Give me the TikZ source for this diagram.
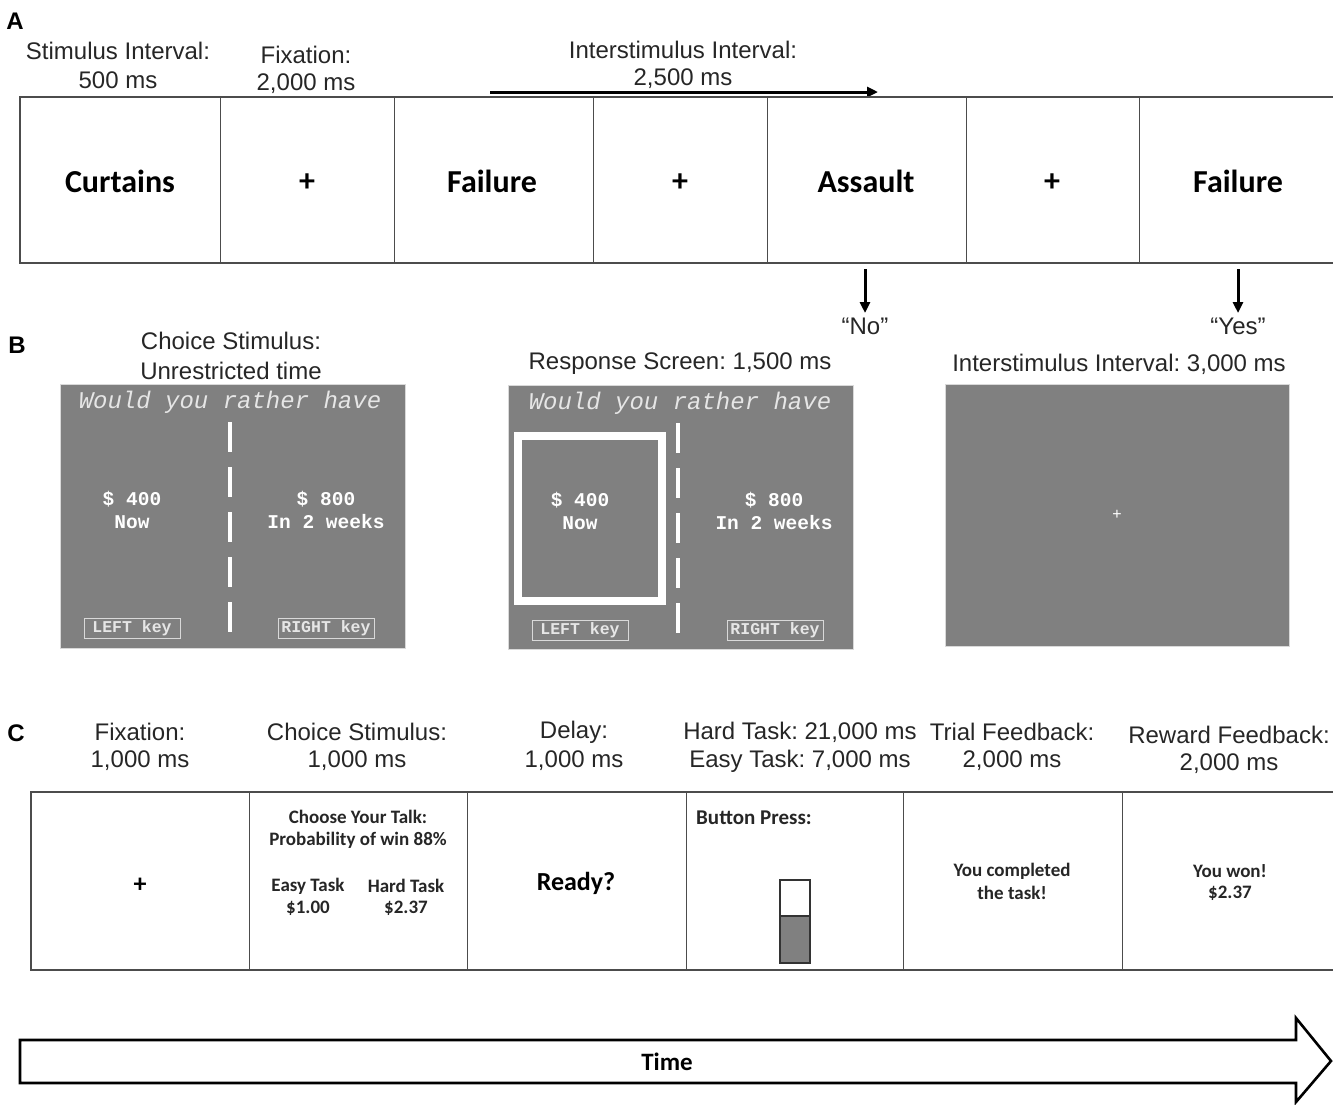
\documentclass[tikz,border=0pt]{standalone}
\usepackage{fontspec}
\setmainfont{Liberation Sans}
\newfontfamily\calib{Carlito}
\newfontfamily\cour{Liberation Mono}
\usetikzlibrary{arrows.meta}
\definecolor{scr}{HTML}{808080}
\definecolor{scrtxt}{HTML}{E6E6E6}
\frenchspacing
\begin{document}
\begin{tikzpicture}[x=1pt,y=-1pt,
  lab/.style={font=\fontsize{24}{28}\selectfont, inner sep=0pt, text=black!85},
  sec/.style={font=\fontsize{24}{26}\selectfont\bfseries, inner sep=0pt},
  cellA/.style={font=\calib\fontsize{32}{36}\selectfont\bfseries, inner sep=0pt},
  cellC/.style={font=\calib\fontsize{19}{22}\selectfont\bfseries, inner sep=0pt, text=black!85},
  strip/.style={draw=black!70, line width=1.6pt},
  divider/.style={draw=black!70, line width=1pt},
  arr/.style={-{Triangle[length=11pt,width=10pt]}, line width=3pt},
  screen/.style={fill=scr, draw=black!15, line width=0.8pt},
  qtxt/.style={font=\cour\itshape\fontsize{24}{26}\selectfont, text=scrtxt, inner sep=0pt},
  mtxt/.style={font=\cour\bfseries\fontsize{19.5}{23}\selectfont, text=white, inner sep=0pt, align=center},
  keytxt/.style={font=\cour\bfseries\fontsize{16.5}{18}\selectfont, text=scrtxt, draw=black!15, line width=0.8pt, inner sep=0pt, minimum width=96pt, minimum height=20pt},
  sepdash/.style={draw=white, line width=4pt, dash pattern=on 30pt off 15pt}
]
\useasboundingbox (0,0) rectangle (1333,1104);

% ---------------- Section A ----------------
\node[sec] (A) at (15,21) {A};
\node[lab] (siA) at (118,51) {Stimulus Interval:};
\node[lab] (siB) at (118,80) {500 ms};
\node[lab] (fxA) at (306,55) {Fixation:};
\node[lab] (fxB) at (306,84) {2,000 ms};
\node[lab] (isA) at (683,50) {Interstimulus Interval:};
\node[lab] (isB) at (683,79) {2,500 ms};
\coordinate (isS) at (490,92);
\coordinate (isE) at (878,92);
\draw[arr] (isS) -- (isE);

\draw[strip] (1333,97) -- (20,97) -- (20,263) -- (1333,263);
\foreach \x in {220,394,593,767,966,1139} \draw[divider] (\x,97) -- (\x,263);

\node[cellA] (a1) at (120,181) {Curtains};
\node[cellA] (a2) at (307,183) {+};
\node[cellA] (a3) at (492,181) {Failure};
\node[cellA] (a4) at (680,183) {+};
\node[cellA] (a5) at (866,181) {Assault};
\node[cellA] (a6) at (1052,183) {+};
\node[cellA] (a7) at (1238,181) {Failure};

\coordinate (noS) at (865,269);
\node[lab] (no) at (865,326) {“No”};
\draw[arr] (noS) -- (865,313);
\coordinate (yesS) at (1238,269);
\node[lab] (yes) at (1238,326) {“Yes”};
\draw[arr] (yesS) -- (1238,313);

% ---------------- Section B ----------------
\node[sec] (B) at (17,345) {B};
\node[lab] (csA) at (231,341) {Choice Stimulus:};
\node[lab] (csB) at (231,371) {Unrestricted time};
\node[lab] (rs) at (680,364) {Response Screen: 1,500 ms};
\node[lab] (isi) at (1119,364) {Interstimulus Interval: 3,000 ms};

% panel 1
\draw[screen] (60,384) rectangle (405,648);
\node[qtxt] (q1) at (230,402) {Would you rather have};
\draw[sepdash] (230,422) -- (230,634);
\node[mtxt] (l1a) at (132,499) {\$ 400};
\node[mtxt] (l1b) at (132,522) {Now};
\node[mtxt] (r1a) at (326,499) {\$ 800};
\node[mtxt] (r1b) at (326,522) {In 2 weeks};
\node[keytxt] (k1l) at (132,628) {LEFT key};
\node[keytxt] (k1r) at (326,628) {RIGHT key};

% panel 2
\draw[screen] (508,385) rectangle (853,649);
\node[qtxt] (q2) at (680,403) {Would you rather have};
\draw[sepdash] (678,423) -- (678,635);
\draw[draw=white, line width=8pt] (518,436) rectangle (662,601);
\node[mtxt] (l2a) at (580,500) {\$ 400};
\node[mtxt] (l2b) at (580,523) {Now};
\node[mtxt] (r2a) at (774,500) {\$ 800};
\node[mtxt] (r2b) at (774,523) {In 2 weeks};
\node[keytxt] (k2l) at (580,630) {LEFT key};
\node[keytxt] (k2r) at (775,630) {RIGHT key};

% panel 3
\draw[screen] (945,384) rectangle (1289,646);
\node[font=\fontsize{16}{18}\selectfont, text=white, inner sep=0pt] (p3) at (1117,515) {+};

% ---------------- Section C ----------------
\node[sec] (C) at (16,733) {C};
\node[lab] (c1a) at (140,732) {Fixation:};
\node[lab] (c1b) at (140,761) {1,000 ms};
\node[lab] (c2a) at (357,732) {Choice Stimulus:};
\node[lab] (c2b) at (357,761) {1,000 ms};
\node[lab] (c3a) at (574,732) {Delay:};
\node[lab] (c3b) at (574,761) {1,000 ms};
\node[lab] (c4a) at (800,732) {Hard Task: 21,000 ms};
\node[lab] (c4b) at (800,761) {Easy Task: 7,000 ms};
\node[lab] (c5a) at (1012,732) {Trial Feedback:};
\node[lab] (c5b) at (1012,761) {2,000 ms};
\node[lab] (c6a) at (1229,735) {Reward Feedback:};
\node[lab] (c6b) at (1229,764) {2,000 ms};

\draw[strip] (1333,792) -- (31,792) -- (31,970) -- (1333,970);
\foreach \x in {249,467,686,903,1122} \draw[divider] (\x,792) -- (\x,970);

\node[cellA, font=\calib\fontsize{26}{30}\selectfont\bfseries] (d1) at (140,885) {+};
\node[cellC] (d2a) at (358,817) {Choose Your Talk:};
\node[cellC] (d2b) at (358,840) {Probability of win 88\%};
\node[cellC] (d2c) at (308,886) {Easy Task};
\node[cellC] (d2d) at (308,908) {\$1.00};
\node[cellC] (d2e) at (406,886) {Hard Task};
\node[cellC] (d2f) at (406,908) {\$2.37};
\node[cellA, font=\calib\fontsize{26}{30}\selectfont\bfseries] (d3) at (576,883) {Ready?};
\node[cellC, anchor=west, font=\calib\fontsize{21}{24}\selectfont\bfseries] (d4) at (696,818) {Button Press:};
\draw[fill=scr, draw=black!80, line width=1.2pt] (780,916) rectangle (810,963);
\draw[fill=white, draw=black!80, line width=1.2pt] (780,880) rectangle (810,916);
\node[cellC] (d5a) at (1012,871) {You completed};
\node[cellC] (d5b) at (1012,893) {the task!};
\node[cellC] (d6a) at (1230,871) {You won!};
\node[cellC] (d6b) at (1230,893) {\$2.37};

% ---------------- Time arrow ----------------
\draw[line width=2.6pt, line join=miter] (20,1040) -- (1296,1040) -- (1296,1018) -- (1331,1061) -- (1296,1102) -- (1296,1083) -- (20,1083) -- cycle;
\node[cellA, font=\calib\fontsize{25}{28}\selectfont\bfseries] (time) at (667,1062) {Time};
\end{tikzpicture}
\end{document}
